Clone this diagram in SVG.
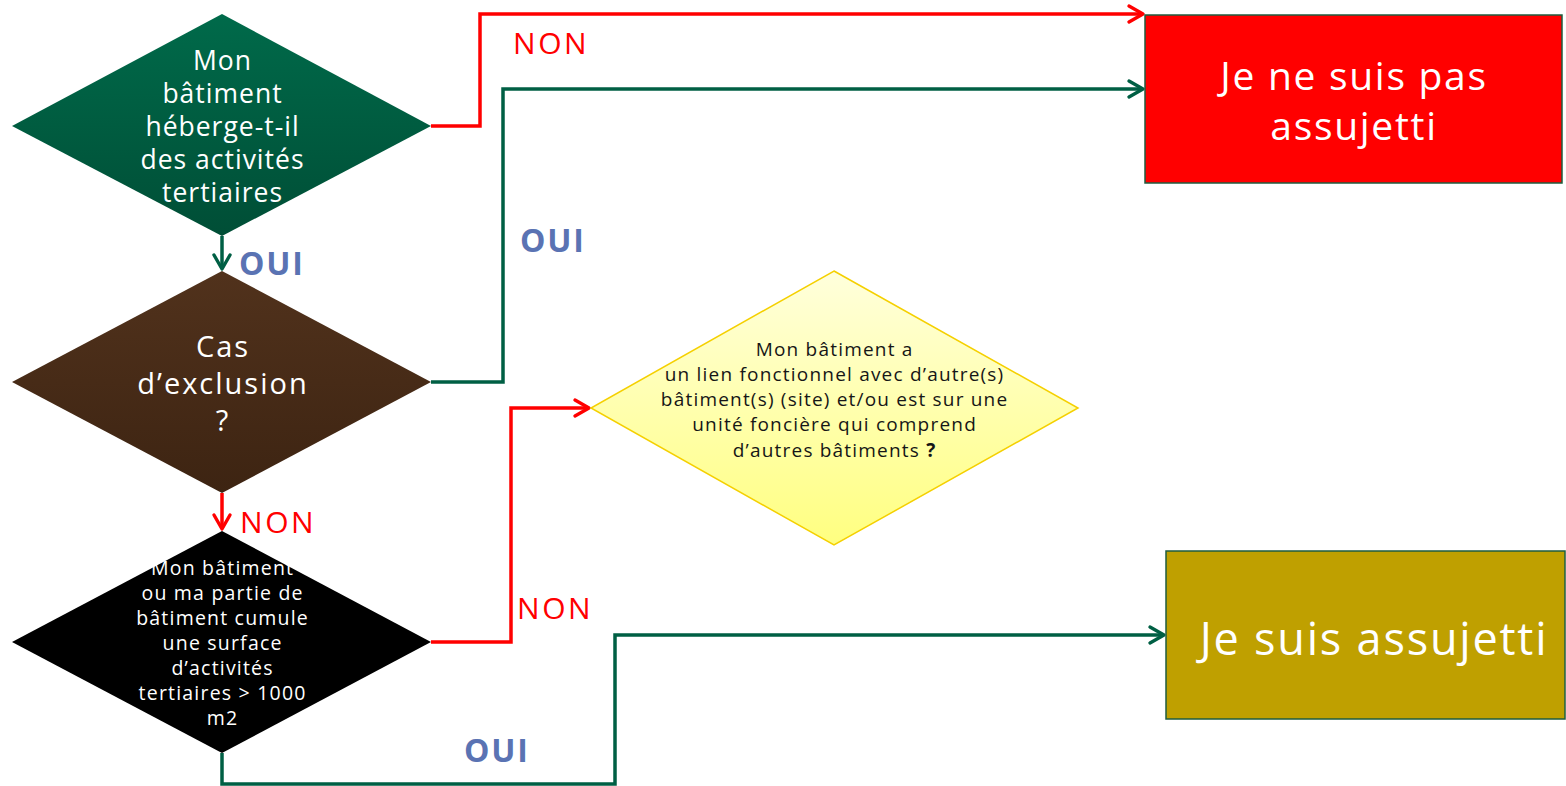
<svg xmlns="http://www.w3.org/2000/svg" width="1566" height="786" viewBox="0 0 1566 786">
<defs>
<linearGradient id="gGreen" x1="0" y1="0" x2="0" y2="1"><stop offset="0" stop-color="#006a4a"/><stop offset="1" stop-color="#004e36"/></linearGradient>
<linearGradient id="gBrown" x1="0" y1="0" x2="0" y2="1"><stop offset="0" stop-color="#51321c"/><stop offset="1" stop-color="#3d2412"/></linearGradient>
<linearGradient id="gYellow" x1="0" y1="0" x2="0" y2="1"><stop offset="0" stop-color="#ffffdc"/><stop offset="1" stop-color="#ffff80"/></linearGradient>
<marker id="aRed" viewBox="0 0 10 10" refX="9.5" refY="5" markerWidth="20" markerHeight="20" markerUnits="userSpaceOnUse" orient="auto" overflow="visible">
<path d="M2.5,1 L9.5,5 L2.5,9" fill="none" stroke="#ff0000" stroke-width="1.7" stroke-linecap="round" stroke-linejoin="round"/>
</marker>
<marker id="aGreen" viewBox="0 0 10 10" refX="9.5" refY="5" markerWidth="20" markerHeight="20" markerUnits="userSpaceOnUse" orient="auto" overflow="visible">
<path d="M2.5,1 L9.5,5 L2.5,9" fill="none" stroke="#005f44" stroke-width="1.7" stroke-linecap="round" stroke-linejoin="round"/>
</marker>
<style>
.red{fill:none;stroke:#ff0000;stroke-width:3.5}
.grn{fill:none;stroke:#005f44;stroke-width:3.5}
.t{font-family:"Open Sans",Lato,"Liberation Sans",sans-serif;text-anchor:middle}
.w{fill:#ffffff}
.lblR{font-family:"Open Sans",Lato,"Liberation Sans",sans-serif;fill:#ff0000;font-size:30px;letter-spacing:2.6px}
.lblB{font-family:"Open Sans",Lato,"Liberation Sans",sans-serif;fill:#5a73b3;font-size:32px;font-weight:bold;letter-spacing:1.8px}
</style>
</defs>
<rect width="1566" height="786" fill="#ffffff"/>
<g id="connectors">
<polyline class="red" points="431,126 480,126 480,14 1143,14" marker-end="url(#aRed)"/>
<polyline class="grn" points="431,382 503,382 503,89 1143,89" marker-end="url(#aGreen)"/>
<polyline class="grn" points="222,236 222,269" marker-end="url(#aGreen)"/>
<polyline class="red" points="222,493 222,529" marker-end="url(#aRed)"/>
<polyline class="red" points="431,642 511,642 511,408 589,408" marker-end="url(#aRed)"/>
<polyline class="grn" points="222,753 222,784 615,784 615,635 1164,635" marker-end="url(#aGreen)"/>
<text class="lblR" x="513" y="54">NON</text>
<text class="lblB" x="520" y="252">OUI</text>
<text class="lblB" x="239" y="275">OUI</text>
<text class="lblR" x="240" y="533">NON</text>
<text class="lblR" x="517" y="619">NON</text>
<text class="lblB" x="464" y="762">OUI</text>
</g>
<g id="q1">
<polygon points="222,14 431,126 222,236 12,126" fill="url(#gGreen)"/>
<text class="t w" font-size="26.5" letter-spacing="1"><tspan x="222.5" y="70">Mon</tspan><tspan x="222.5" y="103">bâtiment</tspan><tspan x="222.5" y="136">héberge-t-il</tspan><tspan x="222.5" y="169">des activités</tspan><tspan x="222.5" y="202">tertiaires</tspan></text>
</g>
<g id="q2">
<polygon points="222,271 431,382 222,493 12,382" fill="url(#gBrown)"/>
<text class="t w" font-size="29" letter-spacing="2"><tspan x="223" y="357">Cas</tspan><tspan x="223" y="394">d’exclusion</tspan><tspan x="223" y="431">?</tspan></text>
</g>
<g id="q3">
<polygon points="222,531 431,642 222,753 12,642" fill="#000000"/>
<text class="t w" font-size="19.5" letter-spacing="1.2"><tspan x="222.6" y="575">Mon bâtiment</tspan><tspan x="222.6" y="600">ou ma partie de</tspan><tspan x="222.6" y="625">bâtiment cumule</tspan><tspan x="222.6" y="650">une surface</tspan><tspan x="222.6" y="675">d’activités</tspan><tspan x="222.6" y="700">tertiaires &gt; 1000</tspan><tspan x="222.6" y="725">m2</tspan></text>
</g>
<g id="q4">
<polygon points="834,271 1078,408 834,545 591,408" fill="url(#gYellow)" stroke="#f5d000" stroke-width="1.5"/>
<text class="t" font-size="19" letter-spacing="1.2" fill="#161616"><tspan x="834.6" y="356">Mon bâtiment a</tspan><tspan x="834.6" y="381">un lien fonctionnel avec d’autre(s)</tspan><tspan x="834.6" y="406">bâtiment(s) (site) et/ou est sur une</tspan><tspan x="834.6" y="431">unité foncière qui comprend</tspan><tspan x="834.6" y="457">d’autres bâtiments <tspan font-weight="bold">?</tspan></tspan></text>
</g>
<g id="r1">
<rect x="1145" y="15" width="417" height="168" fill="#ff0000" stroke="#1f5c3f" stroke-width="1.5"/>
<text class="t w" font-size="39" letter-spacing="1.7"><tspan x="1354" y="90">Je ne suis pas</tspan><tspan x="1354" y="140">assujetti</tspan></text>
</g>
<g id="r2">
<rect x="1166" y="551" width="399" height="168" fill="#bfa000" stroke="#1f5c3f" stroke-width="1.5"/>
<text class="t w" font-size="45" letter-spacing="1.8" x="1374" y="655">Je suis assujetti</text>
</g>
</svg>
